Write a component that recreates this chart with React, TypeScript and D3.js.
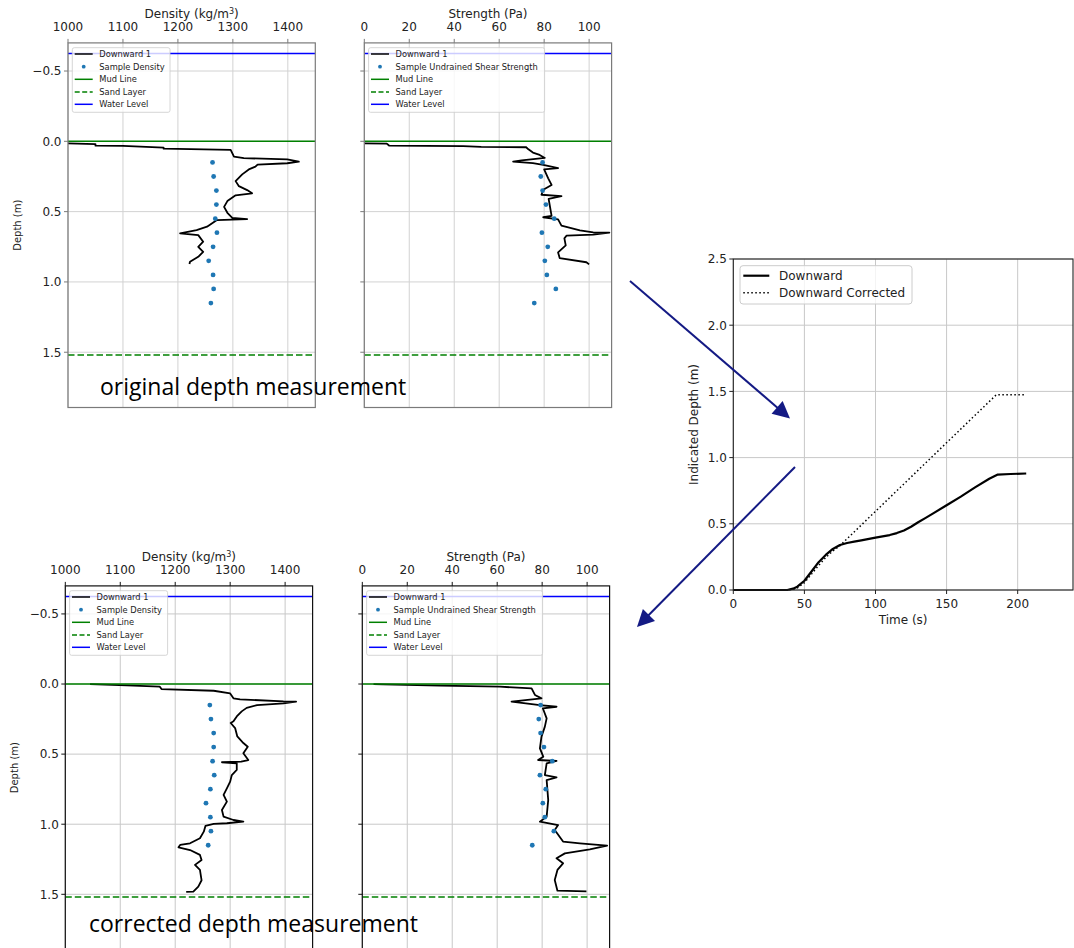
import React from 'react';
import * as d3 from 'd3';

// ---------- data ----------
const densityTicks = [1000, 1100, 1200, 1300, 1400];
const strengthTicks = [0, 20, 40, 60, 80, 100];
const depthTicks = [-0.5, 0, 0.5, 1, 1.5];
const timeTicks = [0, 50, 100, 150, 200];
const indicatedDepthTicks = [0, 0.5, 1, 1.5, 2, 2.5];

const mudLine = 0;
const sandLayer = 1.52;
const waterLevel = -0.625;

const sampleDepths = [0.15, 0.25, 0.35, 0.45, 0.55, 0.65, 0.75, 0.85, 0.95, 1.05, 1.15];
const sampleDensity = [1263, 1265, 1270, 1270, 1268, 1271, 1264, 1256, 1264, 1265, 1260];
const sampleStrength = [79.3, 78.5, 79.3, 80.8, 84.5, 79.0, 81.6, 80.3, 81.2, 85.2, 75.6];

// original depth – density
const origDensityDepth = [0.015, 0.02, 0.031, 0.033, 0.045, 0.052, 0.061, 0.109, 0.12, 0.128, 0.145, 0.156, 0.165, 0.18, 0.2, 0.235, 0.283, 0.319, 0.347, 0.37, 0.384, 0.425, 0.466, 0.508, 0.544, 0.553, 0.56, 0.607, 0.631, 0.655, 0.667, 0.714, 0.75, 0.786, 0.821, 0.857, 0.873];
const origDensityValue = [1000, 1050, 1050, 1100, 1174, 1174, 1296, 1302, 1320, 1399, 1420, 1399, 1345, 1341, 1329, 1317, 1305, 1311, 1326, 1335, 1305, 1290, 1284, 1290, 1299, 1326, 1271, 1253, 1234, 1204, 1237, 1246, 1237, 1246, 1237, 1222, 1221];

// original depth – strength
const origStrengthDepth = [0.014, 0.016, 0.03, 0.034, 0.04, 0.042, 0.057, 0.08, 0.097, 0.118, 0.135, 0.145, 0.155, 0.167, 0.19, 0.2, 0.263, 0.31, 0.345, 0.38, 0.39, 0.41, 0.53, 0.54, 0.555, 0.6, 0.633, 0.648, 0.65, 0.664, 0.67, 0.69, 0.74, 0.79, 0.83, 0.86, 0.875];
const origStrengthValue = [0, 10, 11, 44, 52, 72, 73, 75, 78, 80.3, 70, 66.2, 75, 79.6, 86.2, 80, 81.8, 83.3, 79.6, 78.8, 87.7, 82, 83.3, 79.6, 86.2, 87.7, 95.9, 101.8, 109, 101.8, 90, 89, 89.6, 86.2, 86.9, 98.8, 100];

// corrected depth – density
const corrDensityDepth = [0, 0.01, 0.019, 0.036, 0.048, 0.067, 0.102, 0.109, 0.124, 0.126, 0.138, 0.15, 0.17, 0.195, 0.231, 0.266, 0.278, 0.314, 0.374, 0.421, 0.447, 0.494, 0.542, 0.553, 0.558, 0.565, 0.613, 0.649, 0.696, 0.744, 0.791, 0.839, 0.898, 0.946, 0.97, 0.982, 0.993, 0.998, 1.012, 1.053, 1.1, 1.136, 1.148, 1.165, 1.184, 1.219, 1.255, 1.29, 1.326, 1.4, 1.445, 1.481, 1.483];
const corrDensityValue = [1045, 1112, 1172, 1175, 1270, 1300, 1306, 1318, 1397, 1420, 1397, 1349, 1330, 1321, 1312, 1306, 1301, 1309, 1313, 1324, 1332, 1324, 1333, 1320, 1285, 1312, 1312, 1303, 1300, 1294, 1288, 1294, 1285, 1288, 1306, 1324, 1294, 1270, 1255, 1252, 1245, 1227, 1209, 1206, 1227, 1245, 1248, 1236, 1245, 1248, 1242, 1233, 1220];

// corrected depth – strength
const corrStrengthDepth = [0, 0.003, 0.012, 0.019, 0.031, 0.078, 0.102, 0.126, 0.15, 0.162, 0.173, 0.245, 0.304, 0.376, 0.459, 0.518, 0.542, 0.549, 0.566, 0.649, 0.666, 0.685, 0.827, 0.946, 0.982, 1.006, 1.041, 1.124, 1.136, 1.153, 1.179, 1.208, 1.243, 1.279, 1.326, 1.398, 1.474, 1.479];
const corrStrengthValue = [5, 9.3, 34.5, 61.2, 75.3, 76.8, 79.7, 66.4, 79, 86.4, 80.3, 82, 81.2, 79.7, 79, 80.5, 78.2, 86.4, 82, 81.2, 86.4, 82, 82.7, 82, 79, 87.1, 85.6, 89.3, 96.8, 108.9, 101.2, 90.1, 86.4, 89.3, 86.8, 85.6, 86.8, 99.7];

// indicated depth vs time
const downwardTime = [0, 10, 20, 30, 38, 42, 45, 50, 55, 60, 65, 70, 75, 80, 85, 90, 100, 110, 115, 120, 125, 130, 135, 140, 150, 160, 170, 180, 186, 195, 206];
const downwardDepth = [0, 0, 0, 0, 0, 0.01, 0.025, 0.07, 0.14, 0.21, 0.265, 0.31, 0.34, 0.355, 0.365, 0.375, 0.395, 0.415, 0.43, 0.45, 0.478, 0.512, 0.543, 0.575, 0.64, 0.705, 0.775, 0.84, 0.872, 0.876, 0.88];
const correctedTime = [0, 38, 42, 45, 50, 55, 60, 65, 70, 75, 185, 206];
const correctedDepth = [0, 0, 0.005, 0.015, 0.055, 0.12, 0.185, 0.245, 0.295, 0.335, 1.475, 1.475];

// ---------- layout ----------
const depthDomain = [-0.7, 1.893];
const FONT = 'DejaVu Sans';

type PanelProps = {
  id: string;
  x0: number; y0: number; w: number; h: number;
  xDomain: number[];
  xTicks: number[];
  xLabel: React.ReactNode;
  yLabels: boolean;
  depth: number[];
  value: number[];
  samples: number[];
  sampleLabel: string;
  legendW: number;
  spine: string;
  grid: string;
};

function ProfilePanel(p: PanelProps) {
  const xs = d3.scaleLinear().domain(p.xDomain).range([p.x0, p.x0 + p.w]);
  const ys = d3.scaleLinear().domain(depthDomain).range([p.y0, p.y0 + p.h]);
  const pts: [number, number][] = p.depth.map((d, i) => [p.value[i], d]);
  const line = d3.line<[number, number]>().x(d => xs(d[0])).y(d => ys(d[1]));
  const x1 = p.x0 + p.w;
  const y1 = p.y0 + p.h;
  const lx = p.x0 + 4.3;
  const ly = p.y0 + 4.8;
  const rows = [6.3, 19, 31.6, 44.3, 56.6];
  const legendItems = [
    { label: 'Downward 1', kind: 'line', color: '#000', dash: '' },
    { label: p.sampleLabel, kind: 'dot', color: '#1f77b4', dash: '' },
    { label: 'Mud Line', kind: 'line', color: '#008000', dash: '' },
    { label: 'Sand Layer', kind: 'line', color: '#008000', dash: '5,2.5' },
    { label: 'Water Level', kind: 'line', color: '#0000ff', dash: '' },
  ];
  return (
    <g>
      <defs>
        <clipPath id={p.id}>
          <rect x={p.x0} y={p.y0} width={p.w} height={p.h} />
        </clipPath>
      </defs>
      {p.xTicks.map(t => (
        <line key={'gx' + t} x1={xs(t)} x2={xs(t)} y1={p.y0} y2={y1} stroke={p.grid} strokeWidth={1} />
      ))}
      {depthTicks.map(t => (
        <line key={'gy' + t} x1={p.x0} x2={x1} y1={ys(t)} y2={ys(t)} stroke={p.grid} strokeWidth={1} />
      ))}
      <g clipPath={`url(#${p.id})`}>
        <path d={line(pts) || ''} fill="none" stroke="#000" strokeWidth={1.8} strokeLinejoin="round" />
        {p.samples.map((v, i) => (
          <circle key={'s' + i} cx={xs(v)} cy={ys(sampleDepths[i])} r={2.4} fill="#1f77b4" />
        ))}
        <line x1={p.x0} x2={x1} y1={ys(mudLine)} y2={ys(mudLine)} stroke="#008000" strokeWidth={1.5} />
        <line x1={p.x0} x2={x1} y1={ys(sandLayer)} y2={ys(sandLayer)} stroke="#008000" strokeWidth={1.5} strokeDasharray="6.5,3" />
        <line x1={p.x0} x2={x1} y1={ys(waterLevel)} y2={ys(waterLevel)} stroke="#0000ff" strokeWidth={1.5} />
      </g>
      <rect x={p.x0} y={p.y0} width={p.w} height={p.h} fill="none" stroke={p.spine} strokeWidth={1.2} />
      {p.xTicks.map(t => (
        <g key={'tx' + t}>
          <line x1={xs(t)} x2={xs(t)} y1={p.y0} y2={p.y0 - 4} stroke={p.spine} strokeWidth={1} />
          <text x={xs(t)} y={p.y0 - 11.5} fontSize={12} textAnchor="middle" fill="#222">{t}</text>
        </g>
      ))}
      <text x={(p.x0 + x1) / 2} y={p.y0 - 25} fontSize={12} textAnchor="middle" fill="#222">{p.xLabel}</text>
      {depthTicks.map(t => (
        <g key={'ty' + t}>
          <line x1={p.x0} x2={p.x0 - 4} y1={ys(t)} y2={ys(t)} stroke={p.spine} strokeWidth={1} />
          {p.yLabels && (
            <text x={p.x0 - 6.5} y={ys(t) + 4.3} fontSize={12} textAnchor="end" fill="#222">
              {t < 0 ? '\u2212' + Math.abs(t).toFixed(1) : t.toFixed(1)}
            </text>
          )}
        </g>
      ))}
      {p.yLabels && (
        <text transform={`translate(${p.x0 - 47},${(p.y0 + y1) / 2}) rotate(-90)`} fontSize={10} textAnchor="middle" fill="#222">
          Depth (m)
        </text>
      )}
      <rect x={lx} y={ly} width={p.legendW} height={64.6} rx={2} fill="#fff" fillOpacity={0.8} stroke="#cccccc" strokeWidth={0.8} />
      {legendItems.map((it, i) => (
        <g key={'lg' + i}>
          {it.kind === 'line' ? (
            <line x1={lx + 2.4} x2={lx + 20.4} y1={ly + rows[i]} y2={ly + rows[i]} stroke={it.color} strokeWidth={1.5} strokeDasharray={it.dash || undefined} />
          ) : (
            <circle cx={lx + 11.4} cy={ly + rows[i]} r={1.9} fill={it.color} />
          )}
          <text x={lx + 27} y={ly + rows[i] + 2.9} fontSize={8.3} fill="#222">{it.label}</text>
        </g>
      ))}
    </g>
  );
}

function TimePanel() {
  const x0 = 733.3, x1 = 1073, y0 = 259, y1 = 590;
  const xs = d3.scaleLinear().domain([0, 238.9]).range([x0, x1]);
  const ys = d3.scaleLinear().domain([0, 2.5]).range([y1, y0]);
  const line = d3.line<[number, number]>().x(d => xs(d[0])).y(d => ys(d[1]));
  const down: [number, number][] = downwardTime.map((t, i) => [t, downwardDepth[i]]);
  const corr: [number, number][] = correctedTime.map((t, i) => [t, correctedDepth[i]]);
  return (
    <g>
      {timeTicks.map(t => (
        <line key={'gx' + t} x1={xs(t)} x2={xs(t)} y1={y0} y2={y1} stroke="#c8c8c8" strokeWidth={1} />
      ))}
      {indicatedDepthTicks.map(t => (
        <line key={'gy' + t} x1={x0} x2={x1} y1={ys(t)} y2={ys(t)} stroke="#c8c8c8" strokeWidth={1} />
      ))}
      <path d={line(corr) || ''} fill="none" stroke="#000" strokeWidth={1.5} strokeDasharray="1.5,2.5" />
      <path d={line(down) || ''} fill="none" stroke="#000" strokeWidth={2.2} strokeLinejoin="round" />
      <rect x={x0} y={y0} width={x1 - x0} height={y1 - y0} fill="none" stroke="#222" strokeWidth={1.1} />
      {timeTicks.map(t => (
        <g key={'tx' + t}>
          <line x1={xs(t)} x2={xs(t)} y1={y1} y2={y1 + 4} stroke="#222" />
          <text x={xs(t)} y={y1 + 17.5} fontSize={12} textAnchor="middle" fill="#222">{t}</text>
        </g>
      ))}
      {indicatedDepthTicks.map(t => (
        <g key={'ty' + t}>
          <line x1={x0} x2={x0 - 4} y1={ys(t)} y2={ys(t)} stroke="#222" />
          <text x={x0 - 6.5} y={ys(t) + 4.3} fontSize={12} textAnchor="end" fill="#222">{t.toFixed(1)}</text>
        </g>
      ))}
      <text x={(x0 + x1) / 2} y={624} fontSize={12} textAnchor="middle" fill="#222">Time (s)</text>
      <text transform={`translate(698,${(y0 + y1) / 2}) rotate(-90)`} fontSize={12} textAnchor="middle" fill="#222">
        Indicated Depth (m)
      </text>
      <rect x={740} y={265.7} width={172} height={38.3} rx={3} fill="#fff" fillOpacity={0.8} stroke="#cccccc" strokeWidth={1} />
      <line x1={743.3} x2={769.3} y1={275.7} y2={275.7} stroke="#000" strokeWidth={2.2} />
      <text x={779} y={280} fontSize={12} fill="#222">Downward</text>
      <line x1={743.3} x2={769.3} y1={292.7} y2={292.7} stroke="#000" strokeWidth={1.5} strokeDasharray="1.5,2.5" />
      <text x={779} y={297} fontSize={12} fill="#222">Downward Corrected</text>
    </g>
  );
}

function Arrow({ x1, y1, x2, y2 }: { x1: number; y1: number; x2: number; y2: number }) {
  const color = '#141a84';
  const dx = x2 - x1, dy = y2 - y1;
  const len = Math.hypot(dx, dy);
  const ux = dx / len, uy = dy / len;
  const hl = 17, hw = 8.5;
  const bx = x2 - ux * hl, by = y2 - uy * hl;
  const pts = `${x2},${y2} ${bx - uy * hw},${by + ux * hw} ${bx + uy * hw},${by - ux * hw}`;
  return (
    <g>
      <line x1={x1} y1={y1} x2={bx + ux * 2} y2={by + uy * 2} stroke={color} strokeWidth={2} />
      <polygon points={pts} fill={color} />
    </g>
  );
}

export default function App() {
  const topY = 42.9, topH = 364.6;
  const botY = 585.9, botH = 363.5;
  const W = 247.3;
  const densLabel = (
    <>
      Density (kg/m<tspan dy={-4} fontSize={8}>3</tspan><tspan dy={4}>)</tspan>
    </>
  );
  return (
    <svg width={1074} height={948} style={{ position: 'absolute', left: 0, top: 0, display: 'block' }} fontFamily={FONT}>
      <rect x={0} y={0} width={1074} height={948} fill="#fff" />
      <ProfilePanel id="c1" x0={68} y0={topY} w={W} h={topH} xDomain={[1000, 1450]} xTicks={densityTicks} xLabel={densLabel}
        yLabels depth={origDensityDepth} value={origDensityValue} samples={sampleDensity} sampleLabel="Sample Density"
        legendW={97.7} spine="#7a7a7a" grid="#d2d2d2" />
      <ProfilePanel id="c2" x0={364.3} y0={topY} w={W} h={topH} xDomain={[0, 110]} xTicks={strengthTicks} xLabel="Strength (Pa)"
        yLabels={false} depth={origStrengthDepth} value={origStrengthValue} samples={sampleStrength}
        sampleLabel="Sample Undrained Shear Strength" legendW={176} spine="#7a7a7a" grid="#d2d2d2" />
      <ProfilePanel id="c3" x0={65.3} y0={botY} w={W} h={botH} xDomain={[1000, 1450]} xTicks={densityTicks} xLabel={densLabel}
        yLabels depth={corrDensityDepth} value={corrDensityValue} samples={sampleDensity} sampleLabel="Sample Density"
        legendW={98} spine="#111" grid="#c8c8c8" />
      <ProfilePanel id="c4" x0={362.3} y0={botY} w={W} h={botH} xDomain={[0, 110]} xTicks={strengthTicks} xLabel="Strength (Pa)"
        yLabels={false} depth={corrStrengthDepth} value={corrStrengthValue} samples={sampleStrength}
        sampleLabel="Sample Undrained Shear Strength" legendW={176} spine="#111" grid="#c8c8c8" />
      <TimePanel />
      <Arrow x1={630} y1={281} x2={790} y2={418.5} />
      <Arrow x1={795} y1={467} x2={637} y2={627} />
      <text x={100} y={395} fontFamily="Open Sans" fontSize={23} fill="#000">original depth measurement</text>
      <text x={89} y={931.5} fontFamily="Open Sans" fontSize={23} fill="#000">corrected depth measurement</text>
    </svg>
  );
}
